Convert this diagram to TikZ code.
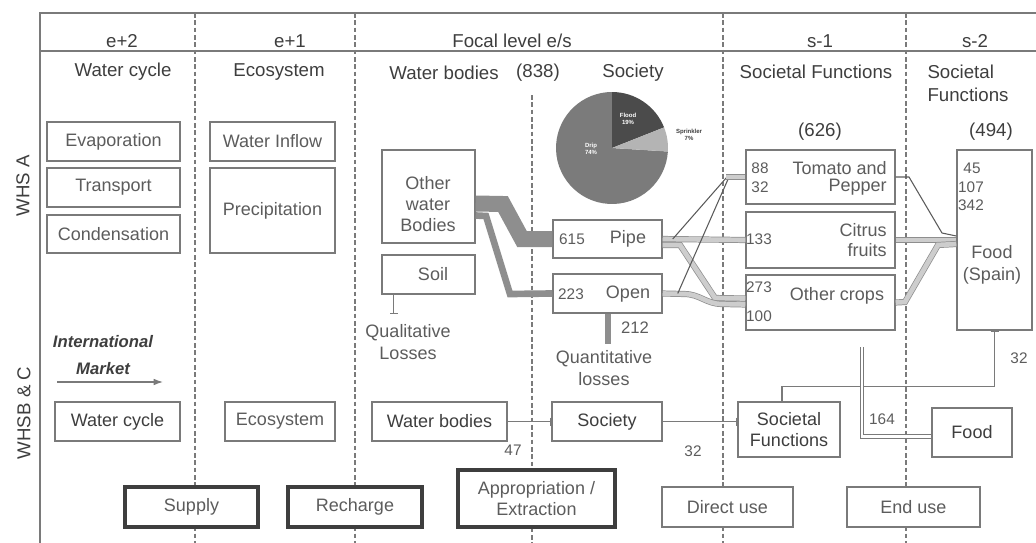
\documentclass[tikz,border=0pt]{standalone}
\usepackage{fontspec}
\setmainfont{Liberation Sans}
\usetikzlibrary{arrows.meta,calc}
\definecolor{ink}{HTML}{3E3E3E}
\definecolor{soft}{HTML}{5C5C5C}
\definecolor{rule}{HTML}{7A7A7A}
\definecolor{flowdark}{HTML}{8E8E8E}
\definecolor{flowlight}{HTML}{CDCDCD}
\definecolor{piedrip}{HTML}{7B7B7B}
\definecolor{pieflood}{HTML}{4B4B4B}
\definecolor{piespr}{HTML}{B4B4B4}
% \panel{style}{name}{x1}{y1}{x2}{y2}{text}: a box between two corners (pixel units)
\newcommand\panel[7]{%
  \pgfmathsetmacro\pw{(#5-#3)*0.75}\pgfmathsetmacro\ph{(#6-#4)*0.75}%
  \pgfmathsetmacro\pcx{(#3+#5)/2}\pgfmathsetmacro\pcy{(#4+#6)/2}%
  \node[#1, minimum width=\pw pt, minimum height=\ph pt] (#2) at (\pcx,\pcy) {#7};}
\begin{document}
\begin{tikzpicture}[x=0.75pt,y=-0.75pt,
  every node/.style={text=soft, font=\fontsize{13.5}{16}\selectfont, inner sep=0pt},
  title/.style={text=ink, font=\fontsize{14}{17}\selectfont},
  num/.style={text=soft, font=\fontsize{11.5}{14}\selectfont},
  pielbl/.style={font=\fontsize{4.5}{5}\selectfont\bfseries, align=center},
  box/.style={draw=rule, line width=1.1pt, fill=white, align=center},
  heavy/.style={draw=ink, line width=2.8pt, fill=white, align=center},
  midbox/.style={draw=rule, line width=1.7pt, fill=white, align=center},
  sep/.style={draw=rule, line width=0.9pt, dash pattern=on 3.5pt off 2pt},
  frame/.style={draw=rule, line width=1.5pt},
  band/.style={draw=flowdark, line width=0.55pt, double=flowlight, double distance=3.5pt},
  hollow/.style={draw=rule, line width=0.6pt, double=white, double distance=2.2pt},
  thinlink/.style={draw=ink!85, line width=0.8pt},
  link/.style={draw=rule, line width=0.9pt},
  stub/.style={-{Bar[width=6pt,line width=0.9pt]}}
]
\useasboundingbox (0,0) rectangle (1036,543);

% frame and column separators
\draw[frame] (1036,13) -- (40,13) -- (40,543);
\draw[frame] (40,51) -- (1036,51);
\foreach \xx in {195,355,723,906} \draw[sep] (\xx,13) -- (\xx,543);
\draw[sep] (532,95) -- (532,543);

% header row
\node[title] (h1) at (122,41) {e+2};
\node[title] (h2) at (290,41) {e+1};
\node[title] (h3) at (512,41) {Focal level e/s};
\node[title] (h4) at (820,41) {s-1};
\node[title] (h5) at (975,41) {s-2};

% column titles
\node[title] (c1) at (123,72) {Water cycle};
\node[title] (c2) at (279,72) {Ecosystem};
\node[title] (c3) at (444,73) {Water bodies};
\node[title] (c3n) at (538,73) {(838)};
\node[title] (c4) at (633,73) {Society};
\node[title] (c5) at (816,72) {Societal Functions};
\node[title, align=left] (c6) at (968,83) {Societal\\Functions};
\node[title] (t626) at (820,132) {(626)};
\node[title] (t494) at (991,132) {(494)};

% row labels
\node[title, rotate=90] (whsa) at (23,186) {WHS A};
\node[title, rotate=90] (whsbc) at (24,413) {WHSB \& C};

% pie chart of irrigation types
\begin{scope}[shift={(612,148)}, y=0.75pt]
  \fill[piedrip] (0,0) -- (-3.6:56) arc[start angle=-3.6, end angle=-270, radius=42pt] -- cycle;
  \fill[pieflood] (0,0) -- (90:56) arc[start angle=90, end angle=21.6, radius=42pt] -- cycle;
  \fill[piespr] (0,0) -- (21.6:56) arc[start angle=21.6, end angle=-3.6, radius=42pt] -- cycle;
\end{scope}
\node[pielbl, text=white] (pflood) at (628,119) {Flood\\19\%};
\node[pielbl, text=ink] (pspr) at (689,135) {Sprinkler\\7\%};
\node[pielbl, text=white] (pdrip) at (591,149) {Drip\\74\%};

% WHS A: water cycle and ecosystem
\panel{box}{evap}{47}{122}{180}{161}{Evaporation}
\panel{box}{trans}{47}{168}{180}{207}{Transport}
\panel{box}{cond}{47}{215}{180}{253}{Condensation}
\panel{box}{inflow}{210}{122}{335}{161}{Water Inflow}
\panel{box}{precip}{210}{168}{335}{253}{Precipitation}

% WHS A: water bodies and society
\panel{box}{owb}{382}{150}{475}{243}{}
\node[align=center] (owbt) at (428,204) {Other\\water\\Bodies};
\panel{box}{soil}{382}{255}{475}{294}{}
\node (soilt) at (433,274) {Soil};
\panel{box}{pipe}{553}{220}{662}{258}{}
\node[num] (n615) at (572,239) {615};
\node (pipet) at (628,239) {Pipe};
\panel{box}{open}{553}{274}{662}{313}{}
\node[num] (n223) at (571,294) {223};
\node (opent) at (628,294) {Open};

% WHS A: societal functions
\panel{box}{tom}{746}{150}{895}{204}{}
\node[num] (n88) at (760,168) {88};
\node[num] (n32t) at (760,187) {32};
\node[anchor=east] (tomt1) at (887,168) {Tomato and};
\node[anchor=east] (tomt2) at (887,187) {Pepper};
\panel{box}{cit}{746}{212}{895}{268}{}
\node[num] (n133) at (759,239) {133};
\node[anchor=east] (citt1) at (887,230) {Citrus};
\node[anchor=east] (citt2) at (887,250) {fruits};
\panel{box}{oth}{746}{275}{895}{330}{}
\node[num] (n273) at (759,287) {273};
\node[num] (n100) at (759,316) {100};
\node (otht) at (837,296) {Other crops};
\panel{box}{fsp}{957}{150}{1032}{330}{}
\node[num] (n45) at (972,168) {45};
\node[num] (n107) at (971,187) {107};
\node[num] (n342) at (971,205) {342};
\node[align=center] (fspt) at (992,265) {Food\\(Spain)};

% flows from the water bodies into society
\draw[flowdark, line width=12pt] ($(owb.east)+(0,7)$) -- (503,204) -- (522,239) -- (pipe.west);
\draw[flowdark, line width=5pt] ($(owb.east)+(0,19)$) -- (486,216) -- (510,294) -- (open.west);
\coordinate (lossend) at ($(open.south)+(0,30)$);
\draw[flowdark, line width=4.5pt] (open.south) -- (lossend);
\node[num, font=\fontsize{12.5}{14}\selectfont] (n212) at (635,328) {212};
\node[align=center] (quant) at (604,368) {Quantitative\\losses};
\coordinate (qualend) at ($(soil.south)+(-35,19)$);
\draw[link, stub] ($(soil.south)+(-35,0)$) -- (qualend);
\node[align=center] (qual) at (408,342) {Qualitative\\Losses};

% flows from society to the crops
\draw[band] ($(pipe.east)+(0,6)$) -- (680,245) -- (715,298) -- ($(oth.west)+(0,-4)$);
\draw[band] (open.east) -- (684,294) .. controls (700,294) and (706,304) .. (722,304) -- ($(oth.west)+(0,2)$);
\draw[band] (pipe.east) -- (cit.west);
\draw[thinlink] ($(pipe.east)+(10,0)$) -- (727,177);
\draw[thinlink] ($(open.east)+(15,0)$) -- (729,177);
\draw[band] (726,177) -- (tom.west);

% flows from the crops to food
\draw[thinlink] (tom.east) -- (909,177) -- (942,233) -- ($(fsp.west)+(0,-4)$);
\draw[band] (cit.east) -- (fsp.west);
\draw[band] (oth.east) -- (905,302) -- (938,245) -- ($(fsp.west)+(0,4)$);

% WHS B & C row
\panel{box, text=ink}{wc2}{55}{402}{180}{441}{Water cycle}
\panel{box}{eco2}{225}{402}{335}{441}{Ecosystem}
\panel{box, text=ink}{wb2}{372}{402}{507}{441}{Water bodies}
\panel{box, text=ink}{soc2}{552}{402}{662}{441}{Society}
\panel{box, text=ink}{sf2}{738}{402}{840}{457}{Societal\\Functions}
\panel{box, text=ink}{food2}{932}{408}{1012}{457}{Food}

\draw[link, stub] (wb2.east) -- (soc2.west);
\draw[link, stub] (soc2.east) -- (soc2.east -| sf2.west);
\draw[link, stub] ($(sf2.north)+(-7,0)$) -- ++(0,-15) -| (fsp.south);
\coordinate (foodtop) at (862,347);
\draw[hollow] ($(food2.west)+(0,4)$) -| (foodtop);
\node[num] (n47) at (513,450) {47};
\node[num] (n32a) at (693,451) {32};
\node[num] (n32b) at (1019,358) {32};
\node[num] (n164) at (882,419) {164};

% international market
\node[align=center, text=ink, font=\fontsize{12.5}{20}\selectfont\bfseries\itshape] (intl) at (103,355) {International\\Market};
\coordinate (imA) at (57,382);
\coordinate (imB) at (163,382);
\draw[link, -{Latex[length=7pt,width=5pt]}] (imA) -- (imB);

% interaction types
\panel{heavy}{sup}{125}{487}{258}{527}{Supply}
\panel{heavy}{rech}{288}{487}{422}{527}{Recharge}
\panel{heavy}{appr}{458}{470}{615}{527}{Appropriation /\\Extraction}
\panel{midbox}{duse}{662}{487}{793}{527}{Direct use}
\panel{box}{euse}{847}{487}{980}{527}{End use}
\end{tikzpicture}
\end{document}
